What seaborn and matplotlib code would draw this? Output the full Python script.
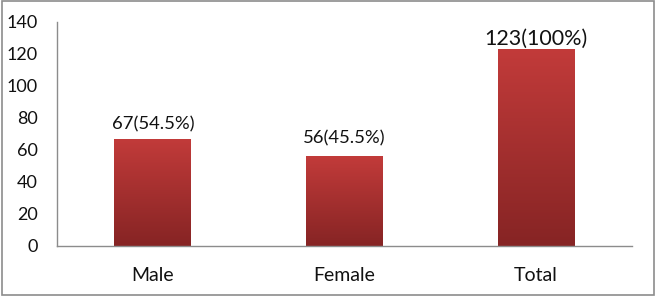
import numpy as np
import pandas as pd
import matplotlib
matplotlib.use("Agg")
import matplotlib.pyplot as plt
import seaborn as sns
from matplotlib.colors import LinearSegmentedColormap

categories = ["Male", "Female", "Total"]
counts = [67, 56, 123]
labels = ["67(54.5%)", "56(45.5%)", "123(100%)"]
yticks = [0, 20, 40, 60, 80, 100, 120, 140]

df = pd.DataFrame({"group": categories, "n": counts})

sns.set_theme(style="white")
plt.rcParams["font.family"] = ["Lato", "DejaVu Sans"]

fig = plt.figure(figsize=(6.56, 2.96), dpi=100)
ax = fig.add_axes([57 / 656, 1 - 246 / 296, (632 - 57) / 656, (246 - 22) / 296])

sns.barplot(data=df, x="group", y="n", color="#a8302f", width=0.40, ax=ax,
            saturation=1)

# vertical gradient on each bar, lighter on top
cmap = LinearSegmentedColormap.from_list("redgrad", ["#862424", "#c23b3a"])
grad = np.linspace(0, 1, 256).reshape(-1, 1)
for p in ax.patches:
    x0, w, h = p.get_x(), p.get_width(), p.get_height()
    im = ax.imshow(grad, cmap=cmap, origin="lower", aspect="auto",
                   extent=[x0, x0 + w, 0, h], zorder=p.get_zorder() + 0.1)
    im.set_clip_path(p)

ax.set_xlim(-0.5, 2.5)
ax.set_ylim(0, 140)
ax.set_yticks(yticks)
ax.set_xlabel("")
ax.set_ylabel("")

# category labels between boundary ticks (Excel style)
ax.set_xticks([-0.5, 0.5, 1.5, 2.5])
ax.set_xticklabels([])
ax.set_xticks(range(len(categories)), minor=True)
ax.set_xticklabels(categories, minor=True)
ax.tick_params(axis="x", which="minor", length=0, pad=15, labelsize=14, colors="#111111")
ax.tick_params(axis="x", which="major", length=5, direction="out", color="#8c8c8c", width=1)
ax.tick_params(axis="y", length=5, direction="out", color="#8c8c8c", width=1,
               labelsize=13, labelcolor="#111111", pad=9)

for s in ["top", "right"]:
    ax.spines[s].set_visible(False)
for s in ["left", "bottom"]:
    ax.spines[s].set_color("#8c8c8c")
    ax.spines[s].set_linewidth(1)

# value labels, offsets in points above each bar
sizes = [13.3, 13.3, 15.5]
gaps = [6.5, 9.5, 3]
for i, (c, lab) in enumerate(zip(counts, labels)):
    ax.annotate(lab, (i, c), xytext=(0, gaps[i]), textcoords="offset points",
                ha="center", va="baseline", fontsize=sizes[i], color="#111111")

# grey outer frame
fig.patches.append(plt.Rectangle((0.003, 0.005), 0.994, 0.99, transform=fig.transFigure,
                                 fill=False, edgecolor="#8c8c8c", linewidth=1.2))

fig.savefig("out.png", dpi=100)
